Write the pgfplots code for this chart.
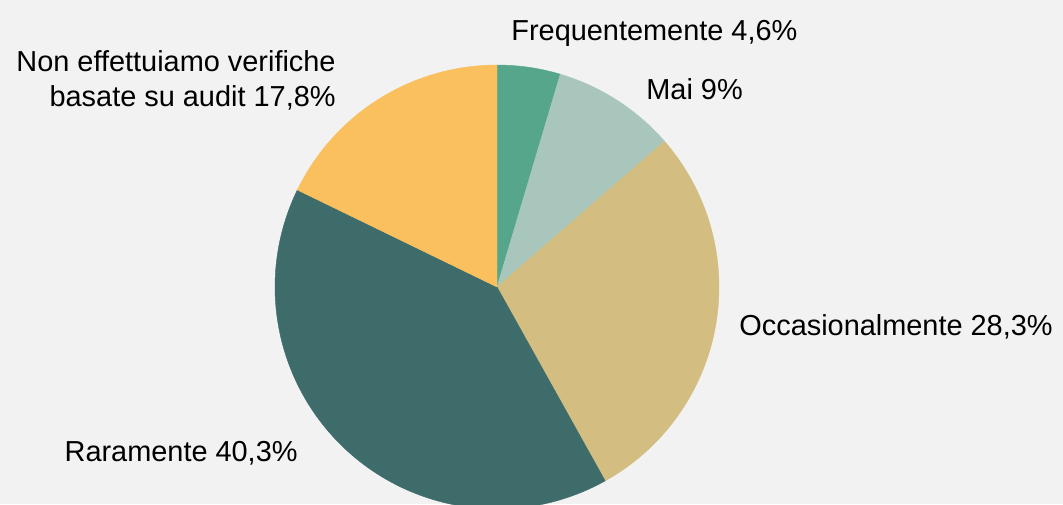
\documentclass[border=0pt]{standalone}
\usepackage{pgfplots}
\pgfplotsset{compat=1.18}
\usepackage{fontspec}
\setmainfont{Liberation Sans}
\definecolor{bg}{HTML}{F2F2F2}
\definecolor{cA}{HTML}{55A68A}
\definecolor{cB}{HTML}{A9C6BC}
\definecolor{cC}{HTML}{D3BD81}
\definecolor{cD}{HTML}{3E6C6A}
\definecolor{cE}{HTML}{F9C05D}
% shares in percent, clockwise from the top
\def\vA{4.6}\def\vB{9}\def\vC{28.3}\def\vD{40.3}\def\vE{17.8}
\begin{document}
\begin{tikzpicture}
\clip (0,0) rectangle (531.5pt,252pt);
\fill[bg] (0,0) rectangle (531.5pt,252pt);
\pgfmathsetmacro\aA{90}
\pgfmathsetmacro\aB{\aA-3.6*\vA}
\pgfmathsetmacro\aC{\aB-3.6*\vB}
\pgfmathsetmacro\aD{\aC-3.6*\vC}
\pgfmathsetmacro\aE{\aD-3.6*\vD}
\pgfmathsetmacro\aF{\aE-3.6*\vE}
\begin{axis}[
  x=111pt, y=111pt,
  xmin=-1.1, xmax=1.1, ymin=-1.1, ymax=1.1,
  hide axis, clip=false,
  at={(248.5pt,108.5pt)}, anchor=origin,
]
\addplot[fill=cA, draw=cA, line width=0.2pt, domain=\aB:\aA, samples=40] ({cos(x)},{sin(x)}) -- (axis cs:0,0) -- cycle;
\addplot[fill=cB, draw=cB, line width=0.2pt, domain=\aC:\aB, samples=60] ({cos(x)},{sin(x)}) -- (axis cs:0,0) -- cycle;
\addplot[fill=cC, draw=cC, line width=0.2pt, domain=\aD:\aC, samples=120] ({cos(x)},{sin(x)}) -- (axis cs:0,0) -- cycle;
\addplot[fill=cD, draw=cD, line width=0.2pt, domain=\aE:\aD, samples=150] ({cos(x)},{sin(x)}) -- (axis cs:0,0) -- cycle;
\addplot[fill=cE, draw=cE, line width=0.2pt, domain=\aF:\aE, samples=80] ({cos(x)},{sin(x)}) -- (axis cs:0,0) -- cycle;
\end{axis}
\begin{scope}[every node/.style={inner sep=0pt, font=\fontsize{14.45}{17}\selectfont}]
\node[anchor=base west] at (255.5pt,231.5pt) {Frequentemente 4,6\%};
\node[anchor=base west] at (323pt,202pt) {Mai 9\%};
\node[anchor=base west] at (369.5pt,84.5pt) {Occasionalmente 28,3\%};
\node[anchor=base east] at (149pt,21.5pt) {Raramente 40,3\%};
\node[anchor=base east] at (168pt,216pt) {Non effettuiamo verifiche};
\node[anchor=base east] at (168pt,198.5pt) {basate su audit 17,8\%};
\end{scope}
\end{tikzpicture}
\end{document}
